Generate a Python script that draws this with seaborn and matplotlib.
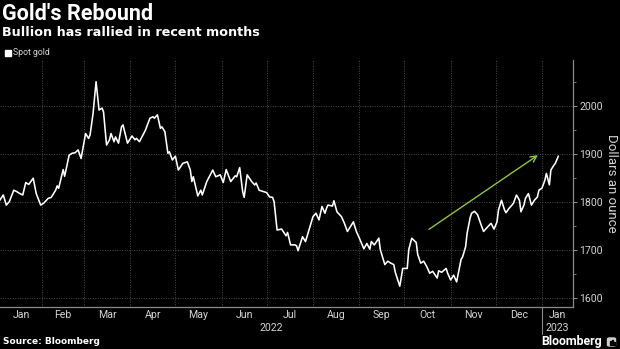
import matplotlib
matplotlib.use("Agg")
import matplotlib.pyplot as plt
import matplotlib.transforms as mtransforms
import matplotlib.patches as mpatches
import pandas as pd
import seaborn as sns

# Spot gold, dollars an ounce
dates = [
    "2022-01-03", "2022-01-06", "2022-01-08", "2022-01-10", "2022-01-13", "2022-01-15",
    "2022-01-17", "2022-01-19", "2022-01-21", "2022-01-23", "2022-01-26", "2022-01-28",
    "2022-01-31", "2022-02-02", "2022-02-05", "2022-02-07", "2022-02-10", "2022-02-11",
    "2022-02-12", "2022-02-15", "2022-02-16", "2022-02-19", "2022-02-21", "2022-02-23",
    "2022-02-25", "2022-02-27", "2022-03-02", "2022-03-04", "2022-03-05", "2022-03-07",
    "2022-03-09", "2022-03-11", "2022-03-13", "2022-03-14", "2022-03-16", "2022-03-18",
    "2022-03-19", "2022-03-21", "2022-03-22", "2022-03-24", "2022-03-26", "2022-03-27",
    "2022-03-30", "2022-04-02", "2022-04-04", "2022-04-05", "2022-04-07", "2022-04-11",
    "2022-04-14", "2022-04-16", "2022-04-17", "2022-04-19", "2022-04-21", "2022-04-22",
    "2022-04-24", "2022-04-26", "2022-04-27", "2022-04-29", "2022-05-01", "2022-05-03",
    "2022-05-06", "2022-05-09", "2022-05-11", "2022-05-12", "2022-05-13", "2022-05-16",
    "2022-05-18", "2022-05-19", "2022-05-22", "2022-05-26", "2022-05-28", "2022-05-31",
    "2022-06-02", "2022-06-04", "2022-06-07", "2022-06-10", "2022-06-11", "2022-06-13",
    "2022-06-15", "2022-06-16", "2022-06-18", "2022-06-21", "2022-06-23", "2022-06-24",
    "2022-06-26", "2022-06-28", "2022-07-01", "2022-07-03", "2022-07-05", "2022-07-06",
    "2022-07-08", "2022-07-11", "2022-07-14", "2022-07-15", "2022-07-17", "2022-07-20",
    "2022-07-21", "2022-07-22", "2022-07-25", "2022-07-27", "2022-07-30", "2022-08-01",
    "2022-08-03", "2022-08-05", "2022-08-07", "2022-08-09", "2022-08-10", "2022-08-11",
    "2022-08-14", "2022-08-15", "2022-08-17", "2022-08-20", "2022-08-22", "2022-08-24",
    "2022-08-26", "2022-08-28", "2022-08-30", "2022-09-01", "2022-09-04", "2022-09-06",
    "2022-09-08", "2022-09-09", "2022-09-11", "2022-09-14", "2022-09-15", "2022-09-18",
    "2022-09-20", "2022-09-22", "2022-09-24", "2022-09-25", "2022-09-28", "2022-09-30",
    "2022-10-03", "2022-10-04", "2022-10-06", "2022-10-09", "2022-10-10", "2022-10-12",
    "2022-10-14", "2022-10-16", "2022-10-18", "2022-10-20", "2022-10-23", "2022-10-24",
    "2022-10-26", "2022-10-29", "2022-10-30", "2022-11-01", "2022-11-03", "2022-11-05",
    "2022-11-08", "2022-11-09", "2022-11-11", "2022-11-12", "2022-11-14", "2022-11-15",
    "2022-11-17", "2022-11-19", "2022-11-21", "2022-11-23", "2022-11-25", "2022-11-28",
    "2022-11-30", "2022-12-02", "2022-12-03", "2022-12-05", "2022-12-07", "2022-12-08",
    "2022-12-10", "2022-12-12", "2022-12-13", "2022-12-15", "2022-12-17", "2022-12-18",
    "2022-12-20", "2022-12-21", "2022-12-23", "2022-12-25", "2022-12-27", "2022-12-29",
    "2022-12-30", "2023-01-01", "2023-01-03", "2023-01-04", "2023-01-06", "2023-01-07",
    "2023-01-09", "2023-01-10", "2023-01-12",
]
prices = [
    1800, 1814, 1793, 1800, 1824, 1821,
    1817, 1814, 1840, 1836, 1849, 1817,
    1793, 1797, 1807, 1809, 1824, 1833,
    1828, 1867, 1853, 1897, 1901, 1902,
    1908, 1890, 1942, 1932, 1939, 1984,
    2050, 1991, 1995, 1987, 1918, 1929,
    1942, 1925, 1935, 1922, 1956, 1960,
    1922, 1937, 1929, 1932, 1925, 1949,
    1974, 1977, 1974, 1981, 1953, 1956,
    1946, 1901, 1904, 1887, 1895, 1866,
    1880, 1883, 1866, 1842, 1852, 1812,
    1824, 1814, 1842, 1866, 1852, 1856,
    1840, 1867, 1842, 1854, 1852, 1871,
    1821, 1809, 1856, 1842, 1835, 1839,
    1824, 1822, 1819, 1810, 1809, 1800,
    1741, 1743, 1729, 1736, 1710, 1710,
    1708, 1698, 1727, 1717, 1748, 1769,
    1776, 1762, 1790, 1776, 1786, 1793,
    1791, 1802, 1779, 1769, 1755, 1738,
    1748, 1758, 1738, 1724, 1702, 1713,
    1701, 1717, 1710, 1724, 1700, 1669,
    1676, 1672, 1669, 1653, 1624, 1661,
    1661, 1700, 1724, 1715, 1690, 1672,
    1676, 1665, 1651, 1655, 1641, 1656,
    1653, 1661, 1651, 1637, 1647, 1633,
    1680, 1685, 1706, 1734, 1766, 1776,
    1780, 1773, 1755, 1738, 1745, 1755,
    1743, 1758, 1783, 1803, 1783, 1777,
    1786, 1793, 1797, 1814, 1803, 1779,
    1793, 1807, 1817, 1793, 1803, 1810,
    1824, 1828, 1845, 1859, 1835, 1866,
    1876, 1880, 1895,
]

month_labels = ["Jan", "Feb", "Mar", "Apr", "May", "Jun", "Jul",
                "Aug", "Sep", "Oct", "Nov", "Dec", "Jan"]
year_labels = ["2022", "2023"]
y_ticks = [1600, 1700, 1800, 1900, 2000]

title = "Gold's Rebound"
subtitle = "Bullion has rallied in recent months"
series_name = "Spot gold"
y_label = "Dollars an ounce"
source = "Source: Bloomberg"

BG = "#000000"
GRID = "#4a4a4a"
AXIS = "#8a8a8a"
TEXT = "#d4d4d4"
GREEN = "#8cc63f"

sns.set_theme(style="dark", rc={
    "axes.facecolor": BG,
    "figure.facecolor": BG,
    "savefig.facecolor": BG,
    "axes.edgecolor": AXIS,
    "text.color": TEXT,
    "xtick.color": AXIS,
    "ytick.color": AXIS,
    "xtick.labelcolor": TEXT,
    "ytick.labelcolor": TEXT,
})
plt.rcParams["font.family"] = ["Roboto", "DejaVu Sans"]

df = pd.DataFrame({"date": pd.to_datetime(dates), "price": prices})

fig = plt.figure(figsize=(6.2, 3.49), dpi=100)
ax = fig.add_axes([0.0, 0.1203, 0.9242, 0.7077])

sns.lineplot(data=df, x="date", y="price", ax=ax, color="white",
             linewidth=1.15, legend=False)

x0 = pd.Timestamp("2022-01-03 19:00")
x1 = pd.Timestamp("2023-01-21 19:00")
ax.set_xlim(x0, x1)
ax.set_ylim(1580.6, 2095.2)

# spines: bottom and right only
for side in ("top", "left"):
    ax.spines[side].set_visible(False)
for side in ("bottom", "right"):
    ax.spines[side].set_visible(True)
    ax.spines[side].set_color(AXIS)
    ax.spines[side].set_linewidth(0.9)

# month boundaries as major ticks (gridlines), labels centred in the visible month
month_starts = pd.date_range("2022-01-01", "2023-02-01", freq="MS")
ax.set_xticks(month_starts[1:13])
ax.set_xticklabels([])
mids = []
for a, b in zip(month_starts[:-1], month_starts[1:]):
    a2, b2 = max(a, x0), min(b, x1)
    mids.append(a2 + (b2 - a2) / 2)
ax.set_xticks(mids, minor=True)
ax.set_xticklabels(month_labels, minor=True, fontsize=7.6)
ax.tick_params(axis="x", which="major", direction="out", length=2.5, width=0.8,
               color=AXIS)
ax.tick_params(axis="x", which="minor", length=0, pad=2.5)

# right-hand value axis
ax.yaxis.tick_right()
ax.yaxis.set_label_position("right")
ax.set_yticks(y_ticks)
ax.set_yticklabels([str(v) for v in y_ticks], fontsize=7.6)
ax.set_yticks([1650, 1750, 1850, 1950, 2050], minor=True)
ax.tick_params(axis="y", which="major", direction="out", length=3, width=0.8,
               color=AXIS, pad=1.5)
ax.tick_params(axis="y", which="minor", direction="out", length=2, width=0.6,
               color=AXIS)
ax.set_ylabel(y_label, rotation=270, fontsize=9.5, color=TEXT, labelpad=11)
ax.set_xlabel("")

ax.grid(True, which="major", axis="both", color=GRID, linestyle=(0, (1, 1.5)),
        linewidth=0.7)

# year labels under the months
trans = mtransforms.blended_transform_factory(ax.transData, ax.transAxes)
year_start = pd.Timestamp("2023-01-01")
ax.text(x0 + (year_start - x0) / 2, -0.085, year_labels[0], transform=trans,
        ha="center", va="center", fontsize=7.6, color=TEXT)
ax.text(year_start + (x1 - year_start) / 2, -0.085, year_labels[1], transform=trans,
        ha="center", va="center", fontsize=7.6, color=TEXT)
ax.plot([year_start, year_start], [0, -0.108], transform=trans, color=AXIS,
        linewidth=0.8, clip_on=False)

# trend arrow
ax.annotate("", xy=(pd.Timestamp("2022-12-29 08:00"), 1897),
            xytext=(pd.Timestamp("2022-10-17 12:00"), 1742.5),
            arrowprops=dict(arrowstyle="->", color=GREEN, lw=1.0,
                            mutation_scale=11, shrinkA=0, shrinkB=0))

# titles, legend key, source
fig.text(0.004, 0.943, title, fontsize=15.5, fontweight="bold", color="white",
         ha="left", va="baseline")
fig.text(0.004, 0.898, subtitle, fontsize=9.2, fontweight="bold", color="white",
         ha="left", va="baseline", family="DejaVu Sans")
fig.patches.append(mpatches.Rectangle((5 / 620, 1 - 55.5 / 349), 6 / 620, 6 / 349,
                                      transform=fig.transFigure, color="white"))
fig.text(13 / 620, 1 - 52.3 / 349, series_name, fontsize=6.3, color=TEXT,
         ha="left", va="center")
fig.text(0.005, 1 - 342 / 349, source, fontsize=6.5, fontweight="bold",
         color="white", ha="left", va="center", family="DejaVu Sans")
fig.text(541 / 620, 1 - 341.5 / 349, "Bloomberg", fontsize=8.9, fontweight="semibold",
         color="white", ha="left", va="center")

# small terminal mark after the wordmark
fig.patches.append(mpatches.FancyBboxPatch((607.5 / 620, 1 - 346 / 349), 8 / 620, 8 / 349,
                                           boxstyle="round,pad=0,rounding_size=0.003",
                                           transform=fig.transFigure, color="#cfcfcf"))
for bx, bh in ((609.5, 3.5), (611.5, 5.0), (613.5, 2.5)):
    fig.patches.append(mpatches.Rectangle((bx / 620, 1 - 344.5 / 349), 1 / 620, bh / 349,
                                          transform=fig.transFigure, color=BG))

fig.savefig("out.png", dpi=100, facecolor=BG)
